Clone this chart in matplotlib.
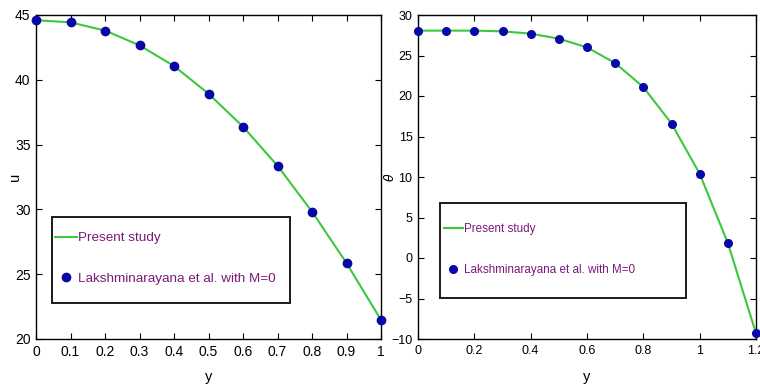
import matplotlib
matplotlib.use("Agg")
import matplotlib.pyplot as plt
from matplotlib.lines import Line2D
from matplotlib.patches import Rectangle

plt.rcParams['font.family'] = ['Liberation Sans', 'DejaVu Sans']

y_u = [0.0, 0.1, 0.2, 0.3, 0.4, 0.5, 0.6, 0.7, 0.8, 0.9, 1.0]
u_vals = [44.6, 44.43, 43.8, 42.66, 41.06, 38.93, 36.38, 33.37, 29.83, 25.86, 21.47]

y_t = [0.0, 0.1, 0.2, 0.3, 0.4, 0.5, 0.6, 0.7, 0.8, 0.9, 1.0, 1.1, 1.2]
t_vals = [28.07, 28.07, 28.07, 27.98, 27.7, 27.08, 26.0, 24.07, 21.1, 16.6, 10.4, 1.85, -9.3]

u_xticks = [0, 0.1, 0.2, 0.3, 0.4, 0.5, 0.6, 0.7, 0.8, 0.9, 1]
u_xticklabels = ['0', '0.1', '0.2', '0.3', '0.4', '0.5', '0.6', '0.7', '0.8', '0.9', '1']
u_yticks = [20, 25, 30, 35, 40, 45]
t_xticks = [0, 0.2, 0.4, 0.6, 0.8, 1.0, 1.2]
t_xticklabels = ['0', '0.2', '0.4', '0.6', '0.8', '1', '1.2']
t_yticks = [-10, -5, 0, 5, 10, 15, 20, 25, 30]

labels = ['Present study', 'Lakshminarayana et al. with M=0']

line_color = '#3cc83c'
dot_color = '#0808a8'
text_color = '#7a1a7a'

fig = plt.figure(figsize=(7.6, 3.85), dpi=100)
W, H = 760, 385
ax1 = fig.add_axes([36 / W, 1 - 339 / H, (381 - 36) / W, (339 - 15) / H])
ax2 = fig.add_axes([418 / W, 1 - 339 / H, (756 - 418) / W, (339 - 15) / H])


def style(ax, fs):
    ax.tick_params(direction='in', top=True, right=True, length=4, width=0.8,
                   labelsize=fs, pad=4, colors='black')
    for s in ax.spines.values():
        s.set_linewidth(1.0)
        s.set_color('black')


ax1.plot(y_u, u_vals, color=line_color, lw=1.5, zorder=2)
ax1.plot(y_u, u_vals, 'o', color=dot_color, ms=6, zorder=3, clip_on=False)
ax1.set_xlim(0, 1)
ax1.set_ylim(20, 45)
ax1.set_xticks(u_xticks)
ax1.set_xticklabels(u_xticklabels)
ax1.set_yticks(u_yticks)
ax1.set_xlabel('y', fontsize=10.5)
ax1.set_ylabel('u', fontsize=10.5)
ax1.xaxis.set_label_coords(0.5, -(377 - 339) / 324)
ax1.xaxis.label.set_va('center')
ax1.yaxis.set_label_coords(-(36 - 15) / 345, 0.5)
ax1.yaxis.label.set_va('center')
style(ax1, 10)

ax2.plot(y_t, t_vals, color=line_color, lw=1.5, zorder=2)
ax2.plot(y_t, t_vals, 'o', color=dot_color, ms=5.5, zorder=3, clip_on=False)
ax2.set_xlim(0, 1.2)
ax2.set_ylim(-10, 30)
ax2.set_xticks(t_xticks)
ax2.set_xticklabels(t_xticklabels)
ax2.set_yticks(t_yticks)
ax2.set_xlabel('y', fontsize=10.5)
ax2.set_ylabel(r'$\theta$', fontsize=9)
ax2.xaxis.set_label_coords(0.5, -(377 - 339) / 324)
ax2.xaxis.label.set_va('center')
ax2.yaxis.set_label_coords(-(418 - 390) / 338, 0.5)
ax2.yaxis.label.set_va('center')
style(ax2, 9)


def add_leg(ax, rect, anchor, fs, spacing, ms):
    ax.add_patch(Rectangle((rect[0], rect[1]), rect[2], rect[3], transform=ax.transAxes,
                           facecolor='white', edgecolor='#1a1a1a', lw=1.4, zorder=4))
    handles = [Line2D([], [], color=line_color, lw=1.5),
               Line2D([], [], ls='none', marker='o', color=dot_color, ms=ms)]
    leg = ax.legend(handles, labels, loc='upper left', bbox_to_anchor=anchor,
                    frameon=False, fontsize=fs, labelcolor=text_color,
                    handlelength=1.6, handletextpad=0.1, borderpad=0,
                    labelspacing=spacing, borderaxespad=0)
    leg.set_zorder(5)


add_leg(ax1, (16 / 345, (339 - 303) / 324, (290 - 52) / 345, (303 - 217) / 324),
        ((55 - 36) / 345, (339 - 232) / 324), 9.7, 2.1, 6)
add_leg(ax2, (22 / 338, (339 - 298) / 324, (686 - 440) / 338, (298 - 203) / 324),
        ((444 - 418) / 338, (339 - 223) / 324), 8.4, 2.5, 5.5)

fig.savefig('out.png', dpi=100)
